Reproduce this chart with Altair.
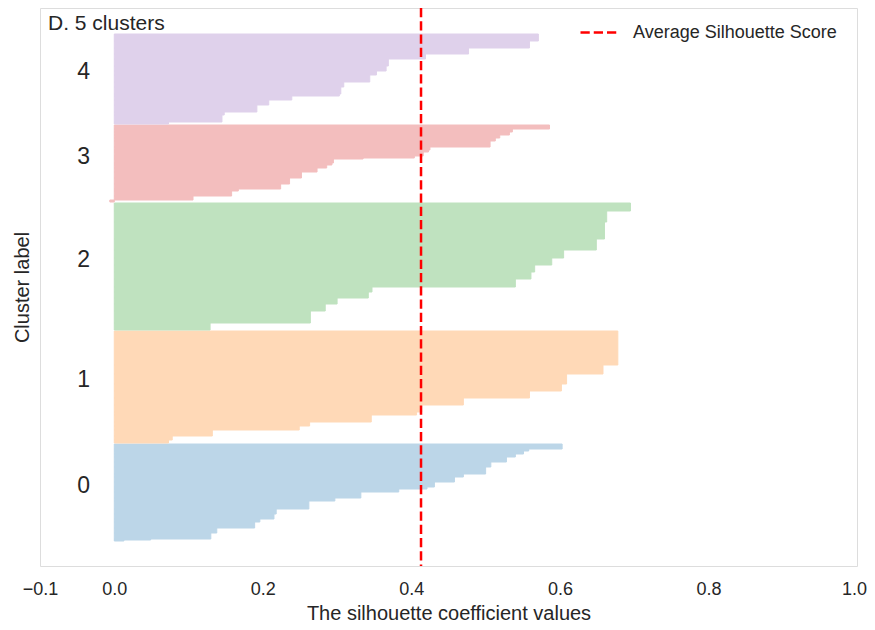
import altair as alt
import pandas as pd

FONT = "Liberation Sans"
TXT = "#262626"

cluster_ids = [0, 1, 2, 3, 4]
cluster_colors = ["#bcd6e8", "#ffd9b7", "#bfe2bf", "#f3bebe", "#dfd1eb"]

# sorted silhouette values of each cluster (bottom -> top), as steps of equal values
c0_vals = [0.013, 0.049, 0.130, 0.138, 0.189, 0.196, 0.215, 0.218, 0.262, 0.297, 0.332, 0.383,
           0.421, 0.431, 0.458, 0.470, 0.500, 0.507, 0.528, 0.540, 0.551, 0.558, 0.603]
c0_counts = [1, 1, 6, 5, 6, 3, 5, 5, 8, 3, 6, 3, 2, 5, 5, 3, 7, 5, 5, 3, 3, 2, 5]

c1_vals = [0.073, 0.078, 0.132, 0.249, 0.263, 0.346, 0.407, 0.414, 0.470, 0.559, 0.602, 0.609,
           0.658, 0.678]
c1_counts = [3, 4, 6, 4, 4, 7, 3, 7, 7, 7, 7, 10, 9, 34]

c2_vals = [0.129, 0.264, 0.284, 0.300, 0.342, 0.347, 0.540, 0.561, 0.566, 0.589, 0.605, 0.649,
           0.660, 0.663, 0.695]
c2_counts = [7, 12, 7, 6, 6, 5, 8, 7, 7, 7, 8, 11, 17, 11, 8]

c3_vals = [-0.006, 0.106, 0.158, 0.167, 0.224, 0.236, 0.252, 0.273, 0.286, 0.293, 0.295, 0.335,
           0.404, 0.416, 0.423, 0.425, 0.506, 0.513, 0.519, 0.532, 0.536, 0.586]
c3_counts = [2, 4, 5, 2, 5, 6, 6, 4, 3, 2, 4, 1, 2, 4, 2, 3, 6, 3, 3, 3, 3, 4]

c4_vals = [0.073, 0.145, 0.148, 0.192, 0.208, 0.239, 0.303, 0.305, 0.309, 0.344, 0.353, 0.366,
           0.369, 0.419, 0.477, 0.559, 0.571]
c4_counts = [2, 7, 3, 7, 5, 4, 2, 7, 5, 7, 4, 5, 7, 5, 6, 7, 7]

avg_score = 0.413
bottom_pad = 25
gap = 1
y_total = 558

x_ticks = [-0.1, 0.0, 0.2, 0.4, 0.6, 0.8, 1.0]

clusters = [(c0_vals, c0_counts), (c1_vals, c1_counts), (c2_vals, c2_counts),
            (c3_vals, c3_counts), (c4_vals, c4_counts)]

rows, labels = [], []
y = bottom_pad
for k, (vals, counts) in zip(cluster_ids, clusters):
    start = y
    for v, n in zip(vals, counts):
        rows.append({"cluster": k, "y0": y, "y1": y + n, "v": v, "zero": 0.0})
        y += n
    labels.append({"cluster": k, "label": str(k), "mid": start + (y - start) / 2, "tx": -0.05})
    y += gap

df = pd.DataFrame(rows)
df_lab = pd.DataFrame(labels)
df_avg = pd.DataFrame({"avg": [avg_score], "name": ["Average Silhouette Score"]})
df_title = pd.DataFrame({"t": ["D. 5 clusters"]})

xscale = alt.Scale(domain=[-0.1, 1.0], nice=False, zero=False)
yscale = alt.Scale(domain=[0, y_total], nice=False, zero=False)

x_axis = alt.Axis(values=x_ticks, format=".1f", title="The silhouette coefficient values",
                  labelFontSize=18, titleFontSize=20, labelPadding=14, titlePadding=5,
                  labelOffset=alt.expr("datum.value >= 1 ? -3 : 0"),
                  ticks=False, tickSize=0, domain=False, grid=False, labelFlush=False,
                  labelOverlap=False, labelColor=TXT, titleColor=TXT, labelFont=FONT,
                  titleFont=FONT, titleFontWeight="normal")
y_axis = alt.Axis(title="Cluster label", labels=False, ticks=False, tickSize=0, domain=False,
                  grid=False, titleFontSize=20, titlePadding=8, titleColor=TXT, titleFont=FONT,
                  titleFontWeight="normal")

cscale = alt.Scale(domain=cluster_ids, range=cluster_colors)

bars = alt.Chart(df).mark_rect(opacity=1, strokeWidth=1).encode(
    x=alt.X("v:Q", scale=xscale, axis=x_axis),
    x2="zero:Q",
    y=alt.Y("y0:Q", scale=yscale, axis=y_axis),
    y2="y1:Q",
    fill=alt.Fill("cluster:N", scale=cscale, legend=None),
    stroke=alt.Stroke("cluster:N", scale=cscale, legend=None),
)

texts = alt.Chart(df_lab).mark_text(align="left", baseline="alphabetic", fontSize=23,
                                     font=FONT, color=TXT).encode(
    x=alt.X("tx:Q", scale=xscale),
    y=alt.Y("mid:Q", scale=yscale),
    text="label:N",
)

title = alt.Chart(df_title).mark_text(align="left", baseline="alphabetic", fontSize=21,
                                       font=FONT, color=TXT).encode(
    x=alt.value(8), y=alt.value(22), text="t:N"
)

rule = alt.Chart(df_avg).mark_rule(strokeDash=[9.25, 4], strokeWidth=2.5).encode(
    x=alt.X("avg:Q", scale=xscale),
    color=alt.Color("name:N", scale=alt.Scale(range=["#ff0000"]),
                    legend=alt.Legend(title=None, orient="none", legendX=539, legendY=5,
                                      padding=0, symbolType="stroke", symbolSize=1296,
                                      symbolDash=[9.25, 4], symbolStrokeWidth=2.5,
                                      labelOffset=15, labelFontSize=18, labelFont=FONT,
                                      labelColor=TXT, labelLimit=0)),
)

chart = alt.layer(bars, texts, rule, title).properties(
    width=817, height=558,
    autosize=alt.AutoSizeParams(type="none"),
    padding={"left": 32, "top": 0, "right": 10, "bottom": 56},
).configure_view(stroke="#cccccc", strokeWidth=1.25).configure(background="white")

chart.save("out.html", embed_options={"renderer": "svg", "actions": False})
